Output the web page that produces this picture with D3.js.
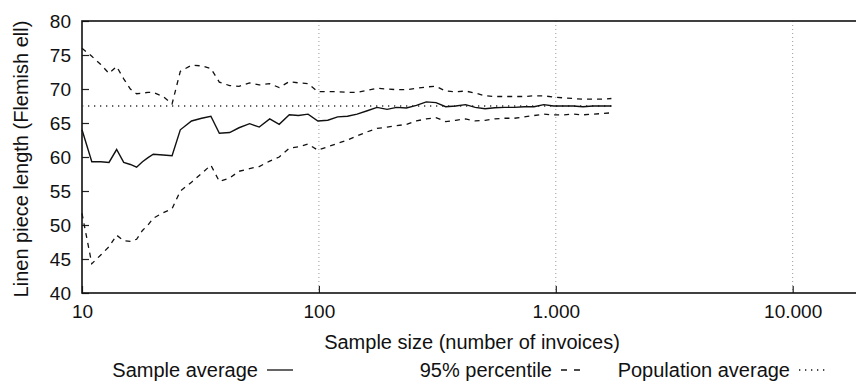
<!DOCTYPE html>
<html>
<head>
<meta charset="utf-8">
<script src="https://cdn.jsdelivr.net/npm/d3@7"></script>
<style>
    body { margin: 0; background: #fff; }
    text { font-family: "Liberation Sans", Arial, Helvetica, sans-serif; fill: #111; }
    .tickLabel { font-size: 19px; }
    .axisText { font-size: 20px; }
    .legendText { font-size: 20px; }
</style>
</head>
<body>
<div id="chart"></div>
<script>
// Sample sizes (number of invoices) drawn from the population
var sampleSizes = [10, 11, 12, 13, 14, 15, 16, 17, 18, 19, 20, 22, 24, 26, 29, 32, 35, 38, 42, 46,
    51, 56, 62, 68, 75, 82, 90, 99, 109, 120, 132, 145, 160, 176, 194, 213, 234, 258, 284, 312,
    343, 378, 416, 457, 503, 553, 608, 669, 736, 809, 890, 979, 1077, 1185, 1303, 1433, 1577, 1717];

var sampleAverage = [64.0, 59.3, 59.3, 59.2, 61.1, 59.2, 58.9, 58.5, 59.3, 59.9, 60.4, 60.3, 60.2, 64.0, 65.3, 65.7, 66.0, 63.5, 63.6, 64.3,
    64.9, 64.4, 65.6, 64.8, 66.2, 66.1, 66.3, 65.3, 65.4, 65.9, 66.0, 66.3, 66.8, 67.3, 67.0, 67.3, 67.2, 67.6, 68.1, 68.0,
    67.4, 67.5, 67.7, 67.3, 67.1, 67.25, 67.3, 67.3, 67.4, 67.4, 67.7, 67.5, 67.5, 67.5, 67.4, 67.5, 67.5, 67.5];

var upperPercentile = [76.0, 74.8, 73.6, 72.3, 73.3, 71.5, 70.0, 69.3, 69.4, 69.5, 69.5, 68.9, 67.8, 72.6, 73.5, 73.4, 73.0, 71.0, 70.5, 70.4,
    70.9, 70.6, 70.8, 70.2, 71.1, 70.9, 70.8, 69.6, 69.6, 69.6, 69.5, 69.5, 69.8, 70.1, 70.0, 69.9, 69.9, 70.1, 70.3, 70.4,
    69.7, 69.6, 69.7, 69.4, 69.0, 68.9, 68.9, 68.9, 68.9, 69.0, 69.0, 68.8, 68.7, 68.6, 68.5, 68.5, 68.5, 68.6];

var lowerPercentile = [51.7, 44.3, 45.6, 46.8, 48.5, 47.7, 47.6, 47.9, 49.2, 50.0, 51.0, 51.8, 52.4, 55.0, 56.3, 57.6, 58.8, 56.4, 56.9, 57.9,
    58.3, 58.6, 59.4, 60.0, 61.3, 61.5, 61.9, 61.0, 61.5, 62.0, 62.5, 63.1, 63.7, 64.2, 64.4, 64.6, 64.8, 65.3, 65.6, 65.8,
    65.2, 65.4, 65.6, 65.3, 65.4, 65.6, 65.7, 65.7, 65.9, 66.1, 66.3, 66.2, 66.2, 66.3, 66.2, 66.3, 66.4, 66.5];

var populationAverage = 67.5;

var xTickValues = [10, 100, 1000, 10000];
var xTickLabels = ["10", "100", "1.000", "10.000"];
var yTickValues = [40, 45, 50, 55, 60, 65, 70, 75, 80];

var legendLabels = ["Sample average", "95% percentile", "Population average"];

var svgWidth = 856;
var svgHeight = 385;

var margin = {
    top: 21,
    right: -8,
    bottom: 92,
    left: 82
};

var width = svgWidth - margin.left - margin.right;
var height = svgHeight - margin.top - margin.bottom;

var svg = d3.select("#chart")
    .append("svg")
    .attr("width", svgWidth)
    .attr("height", svgHeight);

var chartGroup = svg.append("g")
    .attr("transform", `translate(${margin.left}, ${margin.top})`);

// Scales
var xLogScale = d3.scaleLog()
    .domain([10, 20000])
    .range([0, width]);

var yLinearScale = d3.scaleLinear()
    .domain([40, 80])
    .range([height, 0]);

// Vertical dotted grid at the decades
chartGroup.selectAll(".grid")
    .data(xTickValues.slice(1))
    .enter()
    .append("line")
    .attr("x1", d => xLogScale(d))
    .attr("x2", d => xLogScale(d))
    .attr("y1", 0)
    .attr("y2", height)
    .attr("stroke", "#999")
    .attr("stroke-width", 1)
    .attr("stroke-dasharray", "1,3");

// Axes with inward ticks
var xAxis = d3.axisBottom(xLogScale)
    .tickValues(xTickValues)
    .tickSize(-7)
    .tickFormat((d, i) => xTickLabels[i]);

var yAxis = d3.axisLeft(yLinearScale)
    .tickValues(yTickValues)
    .tickSize(-7)
    .tickFormat(d3.format("d"));

var xAxisGroup = chartGroup.append("g")
    .attr("transform", `translate(0, ${height})`)
    .call(xAxis);

var yAxisGroup = chartGroup.append("g")
    .call(yAxis);

[xAxisGroup, yAxisGroup].forEach(function(g) {
    g.select(".domain").remove();
    g.selectAll(".tick line").attr("stroke", "#222").attr("stroke-width", 1.2);
    g.selectAll(".tick text")
        .attr("class", "tickLabel")
        .attr("fill", "#111")
        .style("font-size", "19px");
});
xAxisGroup.selectAll(".tick text").attr("y", 12).attr("dy", "0.71em");
yAxisGroup.selectAll(".tick text").attr("x", -11);

// Frame: left, top and bottom (right edge runs off the page)
chartGroup.append("rect")
    .attr("x", 0)
    .attr("y", 0)
    .attr("width", width)
    .attr("height", height)
    .attr("fill", "none")
    .attr("stroke", "#111")
    .attr("stroke-width", 1.6);

// Lines
var lineFor = function(values) {
    return d3.line()
        .x((d, i) => xLogScale(sampleSizes[i]))
        .y(d => yLinearScale(d))(values);
};

chartGroup.append("line")
    .attr("x1", xLogScale(sampleSizes[0]))
    .attr("x2", xLogScale(sampleSizes[sampleSizes.length - 1]))
    .attr("y1", yLinearScale(populationAverage))
    .attr("y2", yLinearScale(populationAverage))
    .attr("stroke", "#333")
    .attr("stroke-width", 1.3)
    .attr("stroke-dasharray", "1.3,4.7");

[upperPercentile, lowerPercentile].forEach(function(series) {
    chartGroup.append("path")
        .attr("d", lineFor(series))
        .attr("fill", "none")
        .attr("stroke", "#111")
        .attr("stroke-width", 1.3)
        .attr("stroke-dasharray", "5,5");
});

chartGroup.append("path")
    .attr("d", lineFor(sampleAverage))
    .attr("fill", "none")
    .attr("stroke", "#111")
    .attr("stroke-width", 1.4);

// Axis titles
svg.append("text")
    .attr("transform", `translate(28, 159) rotate(-90)`)
    .attr("text-anchor", "middle")
    .attr("class", "axisText")
    .text("Linen piece length (Flemish ell)");

svg.append("text")
    .attr("x", 472)
    .attr("y", 349)
    .attr("text-anchor", "middle")
    .attr("class", "axisText")
    .text("Sample size (number of invoices)");

// Legend: text right-aligned before each sample line
var legendDashes = [null, "6,7", "1.3,4.7"];
var legendEnds = [258, 552, 790];

legendLabels.forEach(function(label, i) {
    var end = legendEnds[i];
    svg.append("text")
        .attr("x", end)
        .attr("y", 377)
        .attr("text-anchor", "end")
        .attr("class", "legendText")
        .text(label);
    svg.append("line")
        .attr("x1", end + 9)
        .attr("x2", end + 35)
        .attr("y1", 370)
        .attr("y2", 370)
        .attr("stroke", "#111")
        .attr("stroke-width", 1.3)
        .attr("stroke-dasharray", legendDashes[i]);
});
</script>
</body>
</html>
